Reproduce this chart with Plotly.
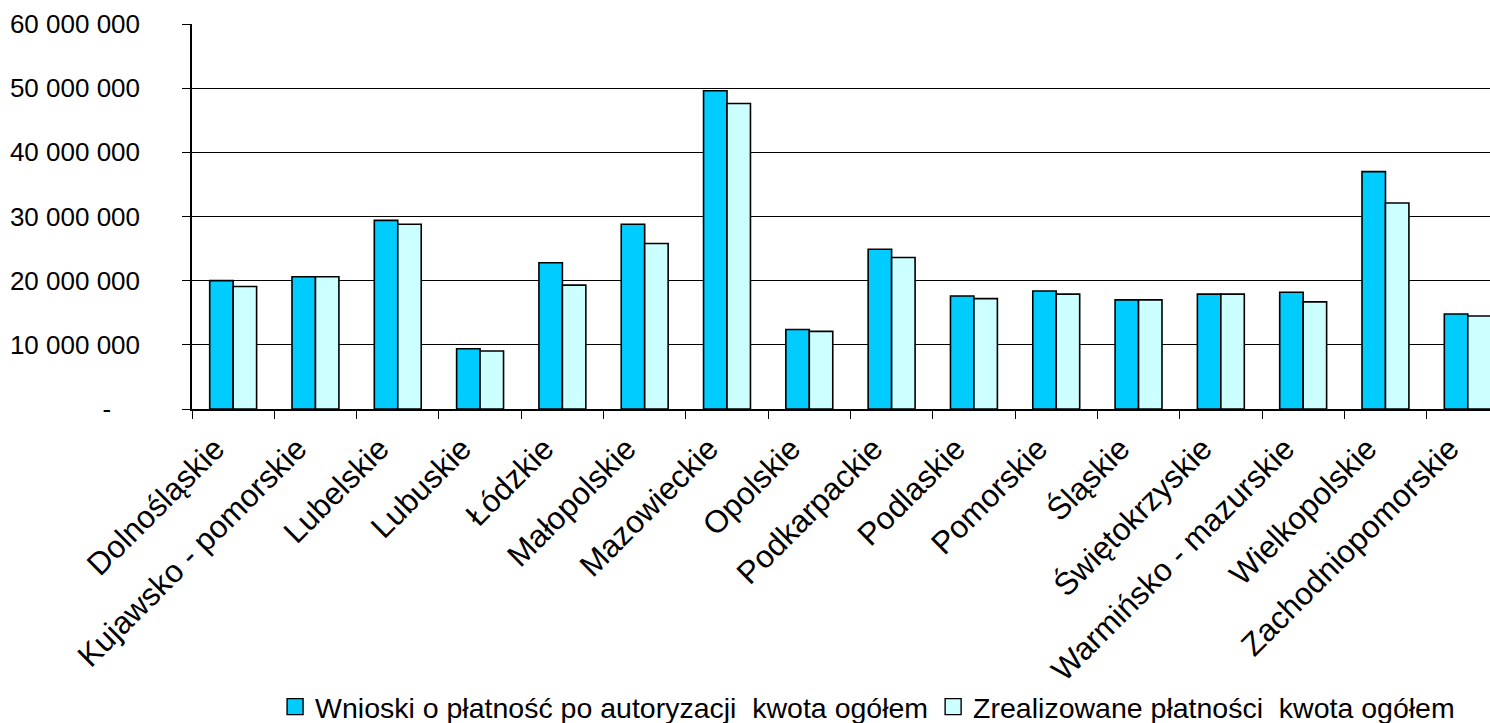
"""Wnioski o płatność vs zrealizowane płatności by voivodeship."""

import plotly.graph_objects as go

REGIONS = [
    "Dolnośląskie", "Kujawsko - pomorskie", "Lubelskie", "Lubuskie",
    "Łódzkie", "Małopolskie", "Mazowieckie", "Opolskie", "Podkarpackie",
    "Podlaskie", "Pomorskie", "Śląskie", "Świętokrzyskie",
    "Warmińsko - mazurskie", "Wielkopolskie", "Zachodniopomorskie",
]
WNIOSKI = [
    20.0e6, 20.6e6, 29.4e6, 9.4e6, 22.8e6, 28.8e6, 49.6e6, 12.4e6,
    24.9e6, 17.6e6, 18.4e6, 17.0e6, 17.9e6, 18.2e6, 37.0e6, 14.8e6,
]
ZREALIZOWANE = [
    19.1e6, 20.6e6, 28.8e6, 9.05e6, 19.3e6, 25.8e6, 47.6e6, 12.1e6,
    23.6e6, 17.2e6, 17.9e6, 17.0e6, 17.9e6, 16.7e6, 32.1e6, 14.5e6,
]
Y_TICKS = [0, 10e6, 20e6, 30e6, 40e6, 50e6, 60e6]
Y_LABELS = [
    "-\u00a0\u00a0\u00a0\u00a0", "10 000 000", "20 000 000", "30 000 000",
    "40 000 000", "50 000 000", "60 000 000",
]

NAME_A = "Wnioski o płatność po autoryzacji \u00a0kwota ogółem"
NAME_B = "Zrealizowane płatności \u00a0kwota ogółem"
COLOR_A = "#00CCFF"
COLOR_B = "#CCFFFF"
FONT = "Liberation Sans, Arial, sans-serif"

fig = go.Figure()
for vals, col in ((WNIOSKI, COLOR_A), (ZREALIZOWANE, COLOR_B)):
    fig.add_trace(go.Bar(
        x=REGIONS, y=vals, showlegend=False,
        marker={"color": col, "line": {"color": "black", "width": 1.6}},
    ))

# legend-only entries so the swatches can be bigger than the bar default
for name, col in ((NAME_A, COLOR_A), (NAME_B, COLOR_B)):
    fig.add_trace(go.Scatter(
        x=[None], y=[None], mode="markers", name=name,
        marker={"symbol": "square", "size": 16, "color": col,
                "line": {"color": "black", "width": 1.4}},
    ))

fig.update_layout(
    width=1490,
    height=723,
    barmode="group",
    bargap=0.43,
    bargroupgap=0,
    plot_bgcolor="white",
    paper_bgcolor="white",
    font={"family": FONT, "size": 26, "color": "black"},
    margin={"l": 192, "r": 0, "t": 24, "b": 314, "pad": 0, "autoexpand": False},
    showlegend=True,
    legend={
        "orientation": "h",
        "x": 0.064,
        "xanchor": "left",
        "yref": "container",
        "y": 0.022,
        "yanchor": "middle",
        "font": {"size": 28.5},
        "itemsizing": "trace",
        "tracegroupgap": 0,
    },
    xaxis={
        "range": [-0.5, 15.27],
        "automargin": False,
        "tickangle": -45,
        "ticks": "outside",
        "tickson": "boundaries",
        "ticklen": 8,
        "tickcolor": "black",
        "ticklabelshift": -18,
        "ticklabelstandoff": 7,
        "showline": True,
        "linecolor": "black",
        "linewidth": 1.5,
        "showgrid": False,
        "tickfont": {"size": 31.5},
    },
    yaxis={
        "range": [0, 60e6],
        "automargin": False,
        "tickvals": Y_TICKS,
        "ticktext": Y_LABELS,
        "ticks": "outside",
        "ticklen": 8,
        "tickcolor": "black",
        "ticklabelstandoff": 37,
        "showline": True,
        "linecolor": "black",
        "linewidth": 1.5,
        "showgrid": True,
        "gridcolor": "black",
        "gridwidth": 1,
        "zeroline": False,
        "tickfont": {"size": 26},
    },
)

fig.write_html(
    "out.html",
    config={"displayModeBar": False},
    post_script="document.body.style.margin='0';",
)
